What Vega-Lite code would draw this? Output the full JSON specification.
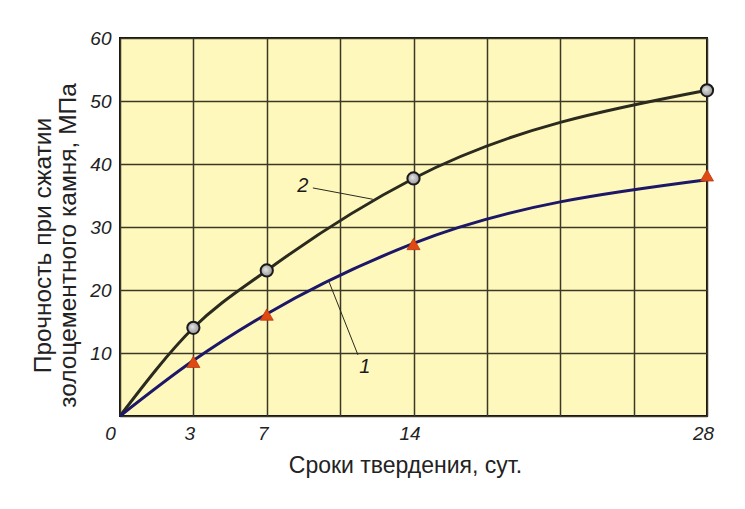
{
  "$schema": "https://vega.github.io/schema/vega-lite/v6.json",
  "width": 587,
  "height": 378,
  "autosize": {"type": "none"},
  "padding": {"left": 120, "top": 38, "right": 38, "bottom": 93},
  "background": "#ffffff",
  "config": {
    "view": {"fill": "#fff8bd", "stroke": "#111111", "strokeWidth": 2},
    "font": "Liberation Sans",
    "axis": {
      "domain": false,
      "ticks": false,
      "gridColor": "#3d3826",
      "gridWidth": 1.5,
      "gridOpacity": 1,
      "labelFont": "Liberation Sans",
      "labelFontStyle": "italic",
      "labelFontSize": 19,
      "labelColor": "#222222",
      "titleFont": "Liberation Sans",
      "titleFontWeight": "normal",
      "titleFontSize": 23,
      "titleColor": "#222222"
    }
  },
  "datasets": {
    "curves": [
      {"series": "2", "days": 0, "strength": 0},
      {"series": "2", "days": 3, "strength": 14.0},
      {"series": "2", "days": 7, "strength": 23.1},
      {"series": "2", "days": 14, "strength": 37.7},
      {"series": "2", "days": 28, "strength": 51.7},
      {"series": "1", "days": 0, "strength": 0},
      {"series": "1", "days": 3, "strength": 8.8},
      {"series": "1", "days": 7, "strength": 16.2},
      {"series": "1", "days": 14, "strength": 27.4},
      {"series": "1", "days": 28, "strength": 37.5}
    ],
    "markers": [
      {"series": "2", "days": 3, "strength": 14.0},
      {"series": "2", "days": 7, "strength": 23.1},
      {"series": "2", "days": 14, "strength": 37.7},
      {"series": "2", "days": 28, "strength": 51.7},
      {"series": "1", "days": 3, "strength": 8.6},
      {"series": "1", "days": 7, "strength": 16.1},
      {"series": "1", "days": 14, "strength": 27.3},
      {"series": "1", "days": 28, "strength": 38.2}
    ],
    "leaders": [
      {"series": "2", "x1": 9.2, "y1": 36.2, "x2": 12.06, "y2": 34.4},
      {"series": "1", "x1": 9.97, "y1": 21.3, "x2": 11.35, "y2": 9.7}
    ],
    "labels": [
      {"label": "2", "days": 8.72, "strength": 36.5},
      {"label": "1", "days": 11.68, "strength": 7.8}
    ]
  },
  "encoding": {
    "x": {
      "field": "days",
      "type": "quantitative",
      "scale": {"type": "linear", "domain": [0, 3, 7, 14, 28], "range": [0, 73.375, 146.75, 293.5, 587], "nice": false, "zero": false},
      "axis": {
        "values": [0, 3, 7, 10.5, 14, 17.5, 21, 24.5, 28],
        "labelExpr": "indexof([0, 3, 7, 14, 28], datum.value) >= 0 ? datum.label : ''",
        "labelPadding": 8,
        "labelOffset": {"condition": {"test": "datum.value == 0", "value": -10}, "value": -4},
        "labelFlush": false,
        "title": "Сроки твердения, сут.",
        "titleX": 285,
        "titlePadding": 11
      }
    },
    "y": {
      "field": "strength",
      "type": "quantitative",
      "scale": {"domain": [0, 60], "nice": false},
      "axis": {
        "values": [0, 10, 20, 30, 40, 50, 60],
        "labelExpr": "datum.value == 0 ? '' : datum.label",
        "labelPadding": 9,
        "title": ["Прочность при сжатии", "золоцементного камня, МПа"],
        "titleFontSize": 24.5,
        "titleLineHeight": 25,
        "titleY": 207,
        "titlePadding": 9
      }
    }
  },
  "layer": [
    {
      "data": {"name": "curves"},
      "mark": {"type": "line", "interpolate": "monotone", "strokeWidth": 3},
      "encoding": {
        "detail": {"field": "series"},
        "color": {
          "field": "series",
          "type": "nominal",
          "scale": {"domain": ["1", "2"], "range": ["#1c1766", "#2a2a1e"]},
          "legend": null
        }
      }
    },
    {
      "data": {"name": "markers"},
      "transform": [{"filter": "datum.series == '2'"}],
      "mark": {
        "type": "point",
        "shape": "circle",
        "size": 150,
        "filled": true,
        "fill": {"gradient": "radial", "x1": 0.4, "y1": 0.4, "r1": 0, "x2": 0.5, "y2": 0.5, "r2": 0.6, "stops": [{"offset": 0, "color": "#e6e6e6"}, {"offset": 1, "color": "#8a8a8a"}]},
        "stroke": "#1a1a1a",
        "strokeWidth": 2,
        "opacity": 1
      }
    },
    {
      "data": {"name": "markers"},
      "transform": [{"filter": "datum.series == '1'"}],
      "mark": {
        "type": "point",
        "shape": "triangle-up",
        "size": 170,
        "filled": true,
        "fill": "#e04a12",
        "stroke": "#b83a10",
        "strokeWidth": 0.8,
        "opacity": 1
      }
    },
    {
      "data": {"name": "leaders"},
      "mark": {"type": "rule", "color": "#2a2a1e", "strokeWidth": 1},
      "encoding": {
        "x": {"field": "x1", "type": "quantitative"},
        "y": {"field": "y1", "type": "quantitative"},
        "x2": {"field": "x2"},
        "y2": {"field": "y2"}
      }
    },
    {
      "data": {"name": "labels"},
      "mark": {"type": "text", "fontSize": 20, "fontStyle": "italic", "color": "#1a1a1a", "font": "Liberation Sans"},
      "encoding": {
        "text": {"field": "label"}
      }
    }
  ]
}
